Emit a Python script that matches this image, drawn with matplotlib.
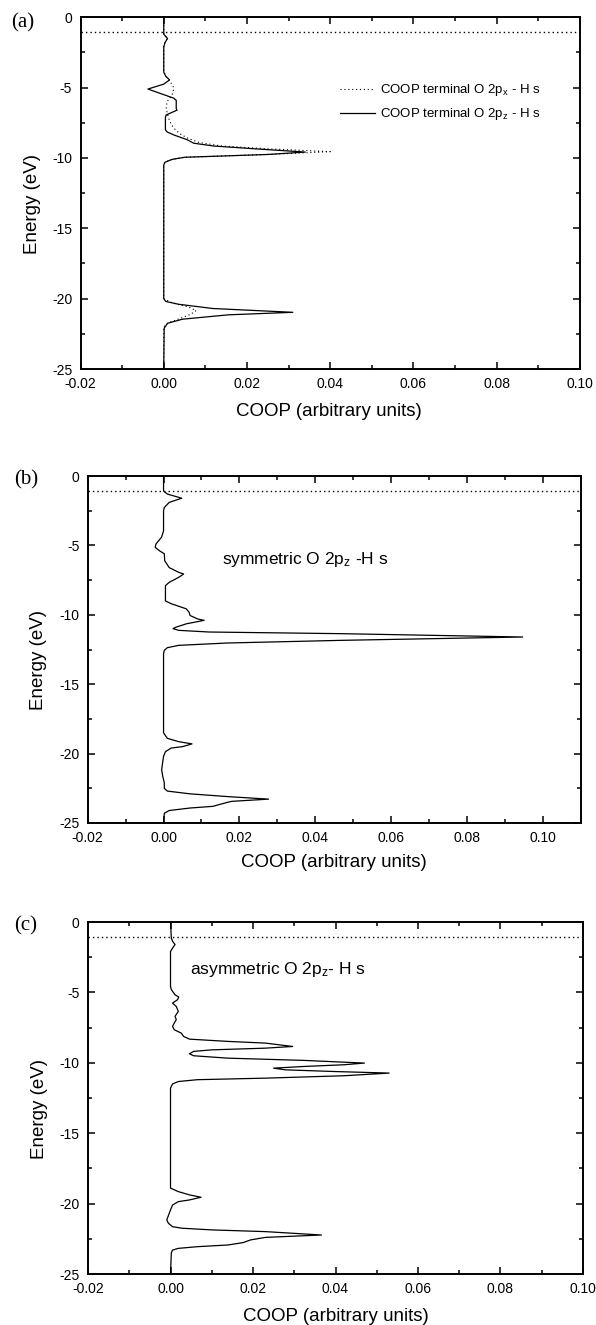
import matplotlib
matplotlib.use("Agg")
import matplotlib.pyplot as plt
from matplotlib.ticker import MultipleLocator

plt.rcParams['font.family'] = ['Liberation Sans', 'DejaVu Sans']
plt.rcParams['mathtext.fontset'] = 'custom'
plt.rcParams['mathtext.rm'] = 'Liberation Sans'
plt.rcParams['mathtext.it'] = 'Liberation Sans:italic'
plt.rcParams['axes.unicode_minus'] = False

# ---------------- data ----------------
fermi_level = -1.05

# (a) terminal O 2pz - H s (solid)
a_pz_energy = [0, -1.2, -1.5, -1.8, -2.1, -3.9, -4.2, -4.45, -4.75, -5.1, -5.75, -5.9,
               -6.5, -6.6, -6.94, -7.1, -8.0, -8.15, -8.36, -8.7, -8.95, -9.15, -9.35,
               -9.58, -9.75, -9.95, -10.1, -10.3, -10.5, -20.0, -20.2, -20.4, -20.7,
               -20.97, -21.15, -21.46, -21.75, -22.1, -25]
a_pz_coop = [0, 0, 0.0009, 0.0003, 0, 0, 0.0005, 0.0014, 0.0, -0.0038, 0.0024, 0.003,
             0.003, 0.0032, 0.0006, 0.0004, 0.0004, 0.0008, 0.0024, 0.0056, 0.0072, 0.012,
             0.022, 0.034, 0.025, 0.005, 0.002, 0.0003, 0, 0, 0.0005, 0.0036, 0.0118,
             0.031, 0.0155, 0.0045, 0.0009, 0.0001, 0]

# (a) terminal O 2px - H s (dotted)
a_px_energy = [0, -1.2, -1.5, -1.8, -2.1, -3.9, -4.3, -4.7, -5.0, -5.4, -5.7, -6.0, -6.4,
               -6.8, -7.2, -7.6, -8.0, -8.3, -8.6, -8.9, -9.15, -9.35, -9.55, -9.75, -9.95,
               -10.1, -10.3, -10.5, -20.0, -20.3, -20.6, -20.85, -21.1, -21.4, -21.7, -22.0,
               -25]
a_px_coop = [0, 0, 0.0009, 0.0003, 0, 0, 0.0008, 0.0018, 0.0024, 0.0022, 0.0015, 0.0008,
             0.0006, 0.0008, 0.0012, 0.0018, 0.0028, 0.004, 0.0058, 0.0085, 0.014, 0.025,
             0.040, 0.025, 0.005, 0.002, 0.0003, 0, 0, 0.002, 0.006, 0.0078, 0.0065, 0.004,
             0.0012, 0, 0]

# (b) symmetric O 2pz - H s
b_energy = [0, -1.08, -1.3, -1.6, -1.9, -2.27, -2.5, -3.95, -4.4, -4.9, -5.14, -5.4, -5.6,
            -6.1, -6.6, -6.94, -7.06, -7.3, -7.66, -7.9, -9.0, -9.2, -9.57, -9.8, -10.05,
            -10.3, -10.4, -10.65, -10.9, -11.0, -11.12, -11.24, -11.36, -11.6, -11.84,
            -12.03, -12.2, -12.37, -12.56, -12.8, -18.5, -18.9, -19.14, -19.3, -19.5,
            -19.6, -19.86, -20.2, -20.57, -21.17, -21.65, -22.1, -22.5, -22.7, -22.9,
            -23.1, -23.28, -23.44, -23.5, -23.8, -23.92, -24.1, -24.3, -25]
b_coop = [0, 0, 0.001, 0.0048, 0.0015, 0.0002, 0, 0, -0.0005, -0.002, -0.0022, -0.001,
          0.0002, 0.0003, 0.0015, 0.004, 0.0053, 0.004, 0.0015, 0.0005, 0.0005, 0.002,
          0.006, 0.0067, 0.007, 0.009, 0.0107, 0.006, 0.0032, 0.0025, 0.004, 0.012, 0.047,
          0.0947, 0.047, 0.017, 0.004, 0.001, 0.0002, 0, 0, 0.001, 0.004, 0.0075, 0.005,
          0.002, 0.0005, 0, -0.0002, -0.0005, -0.0002, 0.0002, 0.0002, 0.001, 0.007,
          0.017, 0.0277, 0.018, 0.017, 0.013, 0.007, 0.0015, 0.0002, 0]

# (c) asymmetric O 2pz - H s
c_energy = [0, -1.14, -1.37, -1.6, -1.85, -2.1, -4.57, -4.8, -5.17, -5.33, -5.52, -5.76,
            -6.0, -6.35, -6.7, -6.94, -7.18, -7.42, -7.65, -7.89, -8.13, -8.32, -8.48,
            -8.6, -8.84, -8.96, -9.08, -9.19, -9.36, -9.5, -9.67, -9.83, -10.02, -10.14,
            -10.26, -10.38, -10.5, -10.62, -10.73, -10.92, -11.09, -11.2, -11.33, -11.5,
            -11.8, -18.9, -19.15, -19.38, -19.55, -19.74, -19.86, -20.1, -20.45, -20.92,
            -21.16, -21.4, -21.64, -21.75, -21.87, -21.99, -22.23, -22.4, -22.58, -22.77,
            -22.94, -23.06, -23.18, -23.3, -23.5, -25]
c_coop = [0, 0.0002, 0.0005, 0.0011, 0.0005, 0, 0, 0.0002, 0.0011, 0.002, 0.0017, 0.0005,
          0.0014, 0.0019, 0.0011, 0.0014, 0.0009, 0.0005, 0.0009, 0.0026, 0.0032, 0.0046,
          0.0139, 0.023, 0.0296, 0.023, 0.010, 0.0056, 0.0046, 0.0056, 0.0139, 0.0324,
          0.047, 0.042, 0.0324, 0.025, 0.0278, 0.0398, 0.053, 0.042, 0.023, 0.0065, 0.0019,
          0.0005, 0, 0, 0.0019, 0.0046, 0.0074, 0.0046, 0.0019, 0.0005, 0, -0.0006,
          -0.0009, -0.0005, 0.0005, 0.0028, 0.0102, 0.023, 0.0366, 0.023, 0.0194, 0.0176,
          0.0139, 0.0065, 0.0019, 0.0005, 0.0002, 0]

x_tick_values = [-0.02, 0.00, 0.02, 0.04, 0.06, 0.08, 0.10]
x_tick_labels = ['-0.02', '0.00', '0.02', '0.04', '0.06', '0.08', '0.10']

# -------------- figure --------------
W, H = 596, 1325
fig = plt.figure(figsize=(W / 100, H / 100), dpi=100)


def px_axes(left, right, top, bottom):
    return fig.add_axes([left / W, 1 - bottom / H, (right - left) / W, (bottom - top) / H])


def style(ax, xmax):
    ax.set_xlim(-0.02, xmax)
    ax.set_ylim(-25, 0)
    ax.xaxis.set_minor_locator(MultipleLocator(0.01))
    ax.yaxis.set_major_locator(MultipleLocator(5))
    ax.yaxis.set_minor_locator(MultipleLocator(2.5))
    ax.set_xticks(x_tick_values)
    ax.set_xticklabels(x_tick_labels)
    ax.tick_params(which='both', direction='in', top=True, right=True, width=1.1,
                   labelsize=10)
    ax.tick_params(which='major', length=5, pad=6)
    ax.tick_params(which='minor', length=3)
    for s in ax.spines.values():
        s.set_linewidth(1.4)
    ax.axhline(fermi_level, color='black', lw=1.0, ls=(0, (1, 2.2)))
    ax.set_xlabel('COOP (arbitrary units)', fontsize=13.5, va='center')
    ax.set_ylabel('Energy (eV)', fontsize=13.5, va='center')


# (a)
axa = px_axes(80.5, 580, 17.3, 369)
style(axa, 0.10)
axa.plot(a_px_coop, a_px_energy, color='black', lw=0.8, ls=(0, (1, 2.5)),
         label='COOP terminal O 2p$_\\mathregular{x}$ - H s')
axa.plot(a_pz_coop, a_pz_energy, color='black', lw=0.9,
         label='COOP terminal O 2p$_\\mathregular{z}$ - H s')
axa.legend(loc='upper left', bbox_to_anchor=(0.5195, 0.815), frameon=False,
           fontsize=9.5, handlelength=2.65, handletextpad=0.4, borderpad=0,
           borderaxespad=0, labelspacing=0.6)
axa.xaxis.set_label_coords(0.497, -0.122)
axa.yaxis.set_label_coords(-0.097, 0.47)

# (b)
axb = px_axes(87.7, 580.7, 476, 823)
style(axb, 0.11)
axb.plot(b_coop, b_energy, color='black', lw=0.9)
axb.text(0.272, 0.758, 'symmetric O 2p$_\\mathregular{z}$ -H s', transform=axb.transAxes,
         fontsize=12.5, ha='left', va='center')
axb.xaxis.set_label_coords(0.5, -0.115)
axb.yaxis.set_label_coords(-0.099, 0.47)

# (c)
axc = px_axes(88, 583, 922, 1274)
style(axc, 0.10)
axc.plot(c_coop, c_energy, color='black', lw=0.9)
axc.text(0.206, 0.864, 'asymmetric O 2p$_\\mathregular{z}$- H s', transform=axc.transAxes,
         fontsize=12.5, ha='left', va='center')
axc.xaxis.set_label_coords(0.5, -0.122)
axc.yaxis.set_label_coords(-0.097, 0.469)

# panel labels
for lab, (x, y) in zip(['(a)', '(b)', '(c)'], [(23, 23), (26, 480), (26, 926)]):
    fig.text(x / W, 1 - y / H, lab, fontsize=15, family='Liberation Serif',
             ha='center', va='center')

fig.savefig('out.png', dpi=100)
